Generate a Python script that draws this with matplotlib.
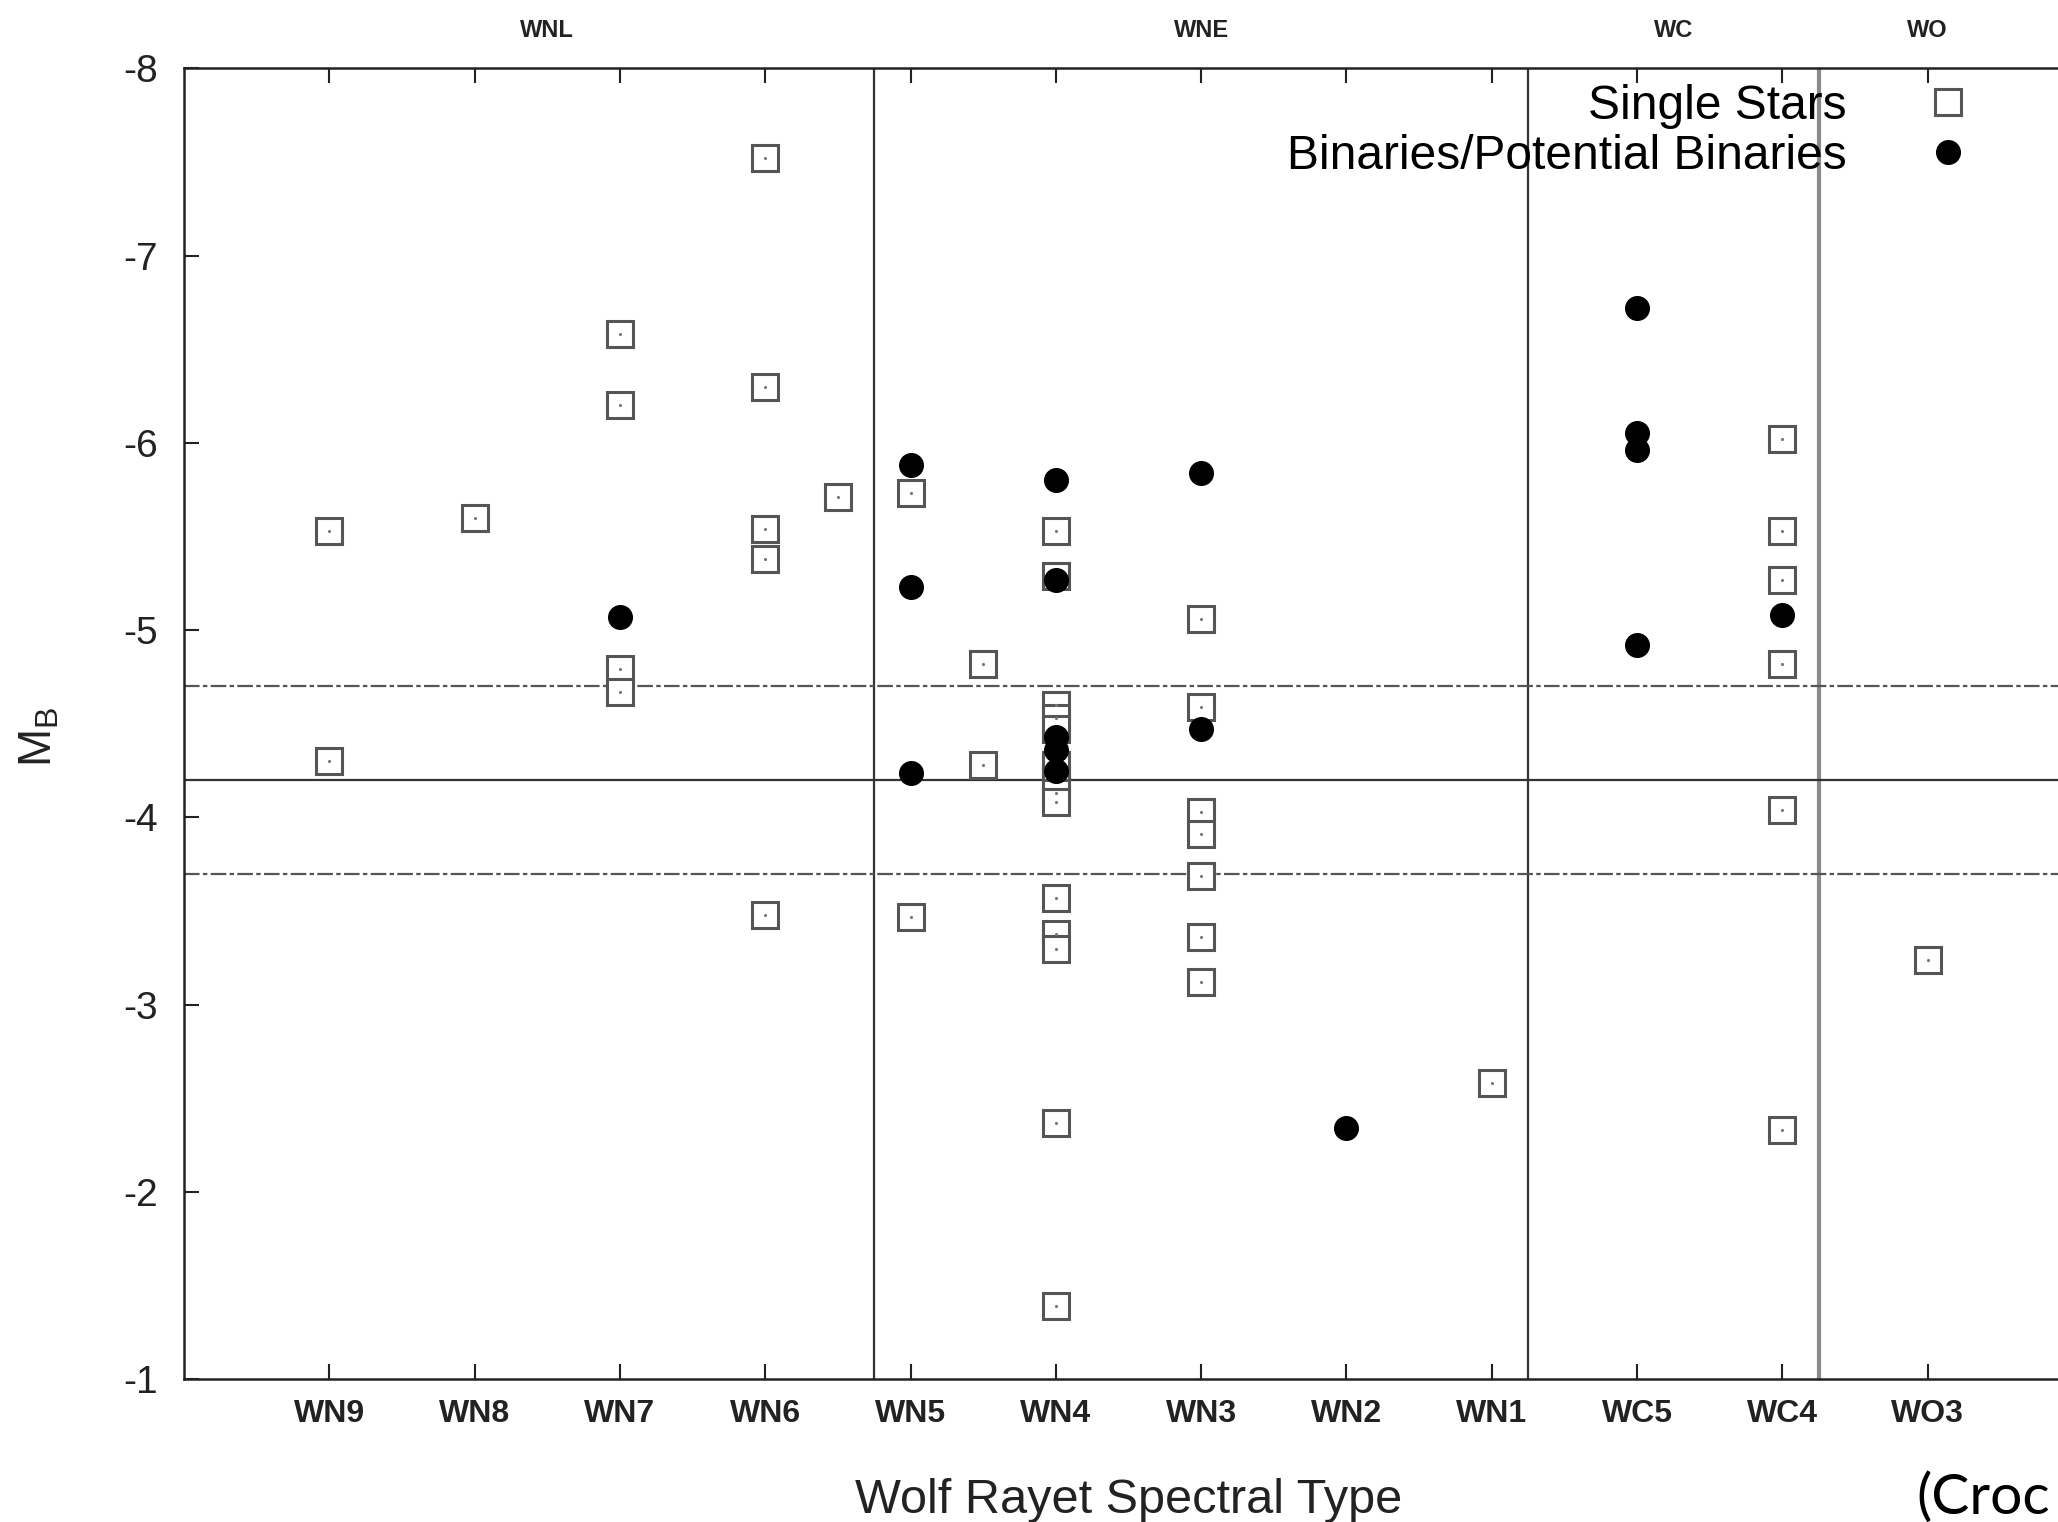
import matplotlib
matplotlib.use("Agg")
import matplotlib.pyplot as plt
from matplotlib.transforms import blended_transform_factory

plt.rcParams['font.family'] = ['Liberation Sans', 'DejaVu Sans']
plt.rcParams['mathtext.fontset'] = 'custom'
plt.rcParams['mathtext.rm'] = 'Liberation Sans'
plt.rcParams['mathtext.it'] = 'Liberation Sans'

# ---- data ----
type_labels = ["WN9", "WN8", "WN7", "WN6", "WN5", "WN4", "WN3", "WN2", "WN1",
               "WC5", "WC4", "WO3"]
type_pos = [1, 2, 3, 4, 5, 6, 7, 8, 9, 10, 11, 12]

group_labels = ["WNL", "WNE", "WC", "WO"]
group_pos = [2.5, 7.0, 10.25, 12.0]
group_bounds = [4.75, 9.25, 11.25]

mean_mb = -4.2
mean_spread = 0.5

single_x = [1, 1,
            2,
            3, 3, 3, 3,
            4, 4, 4, 4, 4,
            4.5,
            5, 5,
            5.5, 5.5,
            6, 6, 6, 6, 6, 6, 6, 6, 6, 6, 6, 6, 6, 6,
            7, 7, 7, 7, 7, 7, 7,
            9,
            11, 11, 11, 11, 11, 11,
            12]
single_mb = [-5.53, -4.30,
             -5.60,
             -6.58, -6.20, -4.79, -4.67,
             -7.52, -6.30, -5.54, -5.38, -3.48,
             -5.71,
             -5.73, -3.47,
             -4.82, -4.28,
             -5.53, -5.29, -4.60, -4.53, -4.47, -4.28, -4.20, -4.13, -4.08,
             -3.57, -3.38, -3.30, -2.37, -1.39,
             -5.06, -4.59, -4.03, -3.91, -3.69, -3.36, -3.12,
             -2.58,
             -6.02, -5.53, -5.27, -4.82, -4.04, -2.33,
             -3.24]

binary_x = [3,
            5, 5, 5,
            6, 6, 6, 6, 6,
            7, 7,
            8,
            10, 10, 10, 10,
            11]
binary_mb = [-5.07,
             -5.88, -5.23, -4.24,
             -5.80, -5.27, -4.43, -4.36, -4.25,
             -5.84, -4.47,
             -2.34,
             -6.72, -6.05, -5.96, -4.92,
             -5.08]

# ---- figure ----
W, H = 2058, 1522
fig = plt.figure(figsize=(W / 100, H / 100), dpi=100)
ax = fig.add_axes([184 / W, 142.6 / H, 1889 / W, 1311.2 / H])

ax.set_xlim(0, 13)
ax.set_ylim(-1, -8)

# reference lines
for xb, col, lw in zip(group_bounds, ["#333333", "#333333", "#8a8a8a"], [1.6, 1.6, 3.0]):
    ax.axvline(xb, color=col, lw=lw, zorder=1)
ax.axhline(mean_mb, color="#333333", lw=1.6, zorder=1)
for yy in (mean_mb - mean_spread, mean_mb + mean_spread):
    ax.axhline(yy, color="#555555", lw=1.6, ls=(0, (7, 1.5, 2, 1.5)), zorder=1)

# points
ax.plot(single_x, single_mb, ls="none", marker="s", ms=19, mfc="white",
        mec="#555555", mew=2.2, zorder=3, label="Single Stars")
ax.plot(single_x, single_mb, ls="none", marker=".", ms=2.5, color="#777777", zorder=3)
ax.plot(binary_x, binary_mb, ls="none", marker="o", ms=17, mfc="black",
        mec="black", zorder=4, label="Binaries/Potential Binaries")

# axes styling
for sp in ax.spines.values():
    sp.set_linewidth(1.8)
    sp.set_color("#222222")

ax.set_xticks(type_pos)
ax.set_xticklabels(type_labels, fontweight="bold")
ax.set_yticks([-8, -7, -6, -5, -4, -3, -2, -1])
ax.set_yticklabels(["-8", "-7", "-6", "-5", "-4", "-3", "-2", "-1"])
ax.tick_params(axis="x", direction="in", length=11, width=1.5, top=True,
               labelsize=23, pad=14, colors="#222222")
ax.tick_params(axis="y", direction="in", length=11, width=1.5, right=True,
               labelsize=28, pad=19, colors="#222222")

# group labels along the top
trans = blended_transform_factory(ax.transData, ax.transAxes)
for gx, gl in zip(group_pos, group_labels):
    ax.text(gx, 1.029, gl, transform=trans, ha="center", va="center",
            fontsize=17, fontweight="bold", color="#222222")

ax.set_xlabel("Wolf Rayet Spectral Type", fontsize=35, color="#222222")
ax.xaxis.set_label_coords(0.5, -0.075)
ax.set_ylabel(r"$\mathrm{M_B}$", fontsize=33, color="#222222")
ax.yaxis.set_label_coords(-0.0646, 0.49)

ax.legend(loc="upper right", bbox_to_anchor=(1971.5 / W, 0.945),
          bbox_transform=fig.transFigure, frameon=False, markerfirst=False,
          fontsize=34.5, handlelength=1.0, handletextpad=1.6, borderpad=0,
          borderaxespad=0, labelspacing=0.1)

fig.text(1916 / W, 1 - 1498 / H, "(Croc", fontsize=41, family=["Lato", "DejaVu Sans"],
         ha="left", va="center", color="black")

fig.savefig("out.png", dpi=100)
